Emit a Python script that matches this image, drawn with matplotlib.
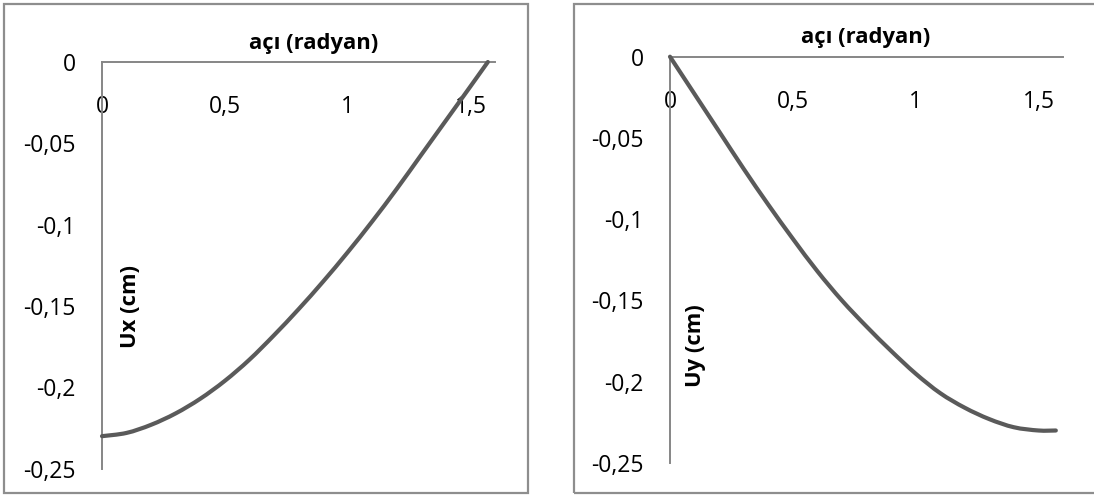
import matplotlib
matplotlib.use("Agg")
import matplotlib.pyplot as plt
from matplotlib.patches import Rectangle, PathPatch
from matplotlib.path import Path

# ---- data ----
angle = [0.0, 0.1, 0.2, 0.3, 0.4, 0.5, 0.6, 0.7, 0.8, 0.9, 1.0,
         1.1, 1.2, 1.3, 1.4, 1.5, 1.5708]
ux = [-0.230, -0.228, -0.223, -0.216, -0.207, -0.196, -0.183, -0.168,
      -0.152, -0.135, -0.117, -0.098, -0.078, -0.057, -0.036, -0.015, 0.0]
uy = [0.0, -0.023, -0.046, -0.069, -0.091, -0.112, -0.132, -0.150,
      -0.166, -0.181, -0.195, -0.207, -0.216, -0.223, -0.228, -0.230, -0.230]

x_ticks = [0, 0.5, 1, 1.5]
x_tick_labels = ["0", "0,5", "1", "1,5"]
y_ticks = [0, -0.05, -0.1, -0.15, -0.2, -0.25]
y_tick_labels = ["0", "-0,05", "-0,1", "-0,15", "-0,2", "-0,25"]
x_title = "açı (radyan)"
y_titles = ["Ux (cm)", "Uy (cm)"]

W, H = 1094, 495
FONT = "Open Sans"
FS = 16.5
AXIS_C = "#868686"
LINE_C = "#5a5a5a"
BORDER_C = "#8e8e8e"

plt.rcParams["font.family"] = [FONT, "DejaVu Sans"]

fig = plt.figure(figsize=(W / 100, H / 100), dpi=100)
fig.patch.set_facecolor("white")


def fx(px):
    return px / W


def fy(py):
    return 1 - py / H


def smooth_path(xs, ys):
    """Excel-style smoothed line: cubic Bezier segments through the points."""
    pts = list(zip(xs, ys))
    n = len(pts)
    verts = [pts[0]]
    codes = [Path.MOVETO]
    for i in range(n - 1):
        p0 = pts[i - 1] if i > 0 else pts[i]
        p1 = pts[i]
        p2 = pts[i + 1]
        p3 = pts[i + 2] if i + 2 < n else pts[i + 1]
        c1 = (p1[0] + (p2[0] - p0[0]) / 6, p1[1] + (p2[1] - p0[1]) / 6)
        c2 = (p2[0] - (p3[0] - p1[0]) / 6, p2[1] - (p3[1] - p1[1]) / 6)
        verts += [c1, c2, p2]
        codes += [Path.CURVE4] * 3
    return Path(verts, codes)


# chart borders
fig.patches.append(Rectangle((fx(4), fy(493)), fx(528) - fx(4), fy(4) - fy(493),
                             transform=fig.transFigure, fill=False,
                             edgecolor=BORDER_C, linewidth=1.6))
fig.patches.append(Rectangle((fx(574), fy(493)), fx(1100) - fx(574), fy(4) - fy(493),
                             transform=fig.transFigure, fill=False,
                             edgecolor=BORDER_C, linewidth=1.6))

specs = [
    dict(l=102, r=495, t=62, b=468.7, data=ux, tx=314, ty=43, lx=131, ly=307, yl=y_titles[0]),
    dict(l=670, r=1063, t=56.7, b=463, data=uy, tx=866, ty=37, lx=696, ly=346, yl=y_titles[1]),
]

for s in specs:
    ax = fig.add_axes([fx(s["l"]), fy(s["b"]), fx(s["r"]) - fx(s["l"]), fy(s["t"]) - fy(s["b"])])
    ax.set_facecolor("none")
    patch = PathPatch(smooth_path(angle, s["data"]), fill=False, edgecolor=LINE_C,
                      linewidth=3.0, capstyle="round", joinstyle="round",
                      clip_on=False, zorder=3)
    ax.add_patch(patch)
    ax.set_xlim(0, 1.6)
    ax.set_ylim(-0.25, 0)
    for side in ("right", "bottom"):
        ax.spines[side].set_visible(False)
    for side in ("left", "top"):
        ax.spines[side].set_color(AXIS_C)
        ax.spines[side].set_linewidth(1.4)
    ax.xaxis.set_ticks_position("top")
    ax.set_xticks(x_ticks)
    ax.set_xticklabels(x_tick_labels)
    ax.set_yticks(y_ticks)
    ax.set_yticklabels(y_tick_labels)
    ax.tick_params(axis="x", length=0, pad=-41, labelsize=FS, labeltop=True,
                   labelbottom=False)
    ax.tick_params(axis="y", length=0, pad=19, labelsize=FS)
    for lab in ax.get_xticklabels():
        lab.set_zorder(4)
    fig.text(fx(s["tx"]), fy(s["ty"]), x_title, ha="center", va="center",
             fontsize=15.8, fontweight="bold")
    fig.text(fx(s["lx"]), fy(s["ly"]), s["yl"], ha="center", va="center",
             rotation=90, fontsize=15.8, fontweight="bold")

fig.savefig("out.png", dpi=100)
